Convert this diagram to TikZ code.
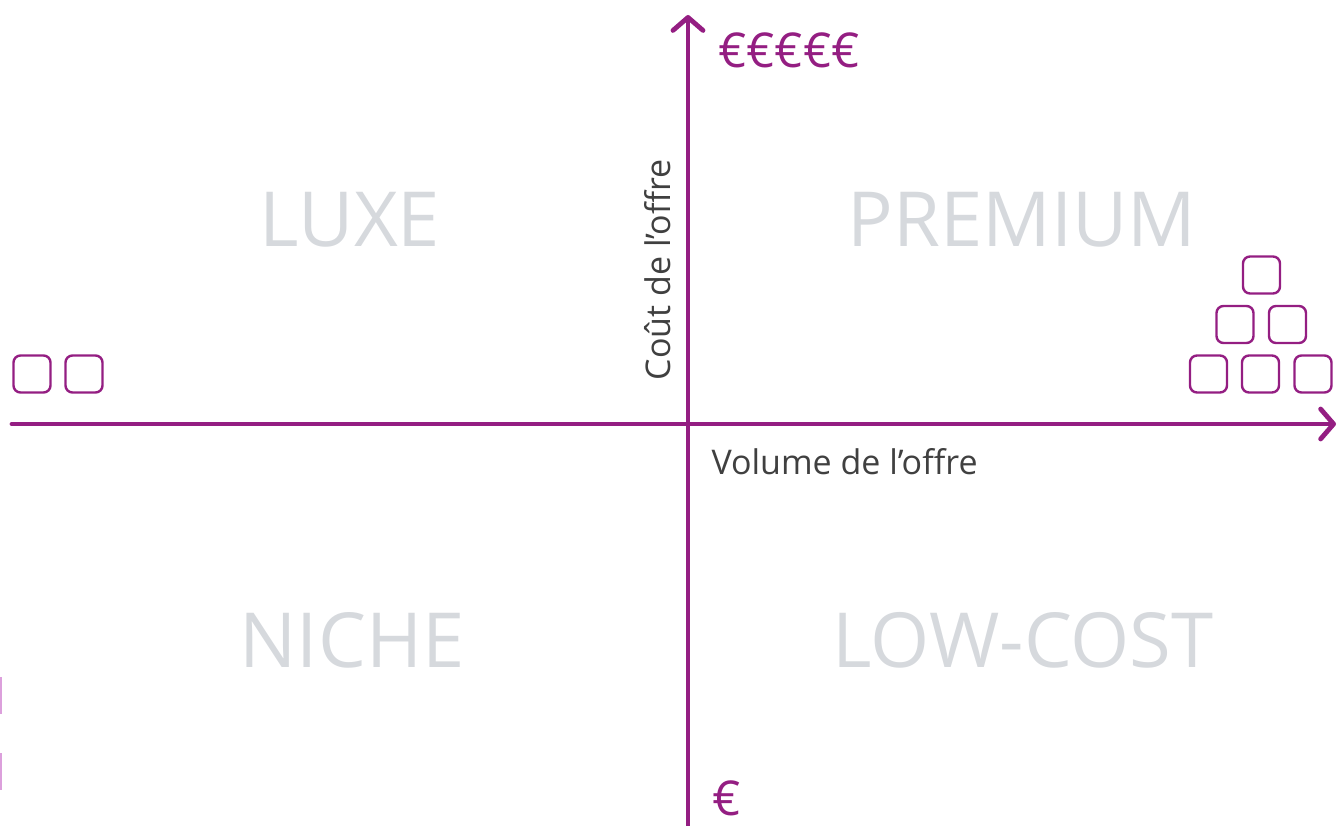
\documentclass[tikz,border=0pt]{standalone}
\usepackage{fontspec}
\setmainfont{Open Sans}
\usetikzlibrary{arrows.meta}
\definecolor{purp}{RGB}{148,30,130}
\definecolor{quad}{RGB}{214,217,221}
\definecolor{axtxt}{RGB}{64,64,64}
\definecolor{lightpurp}{RGB}{220,160,220}
\tikzset{
  axis/.style={draw=purp, line width=4.8pt, line cap=round, -{Straight Barb[length=13pt,width=30pt,line width=4.8pt,round]}},
  sq/.style={draw=purp, line width=2.4pt, rounded corners=7pt, minimum width=37pt, minimum height=37pt, inner sep=0pt},
  quadlbl/.style={text=quad, font=\fontsize{76}{86}\selectfont},
  axlbl/.style={text=axtxt, font=\fontsize{34}{40}\selectfont},
  eurolbl/.style={text=purp, font=\fontsize{48}{56}\selectfont, inner sep=0pt},
}
\begin{document}
\begin{tikzpicture}[x=1pt,y=-1pt]
\useasboundingbox (0,0) rectangle (1341,825);
\coordinate (vb) at (688,830);
\coordinate (vt) at (688,15);
\coordinate (hl) at (12,424);
\coordinate (hr) at (1336,424);
\draw[axis] (vb) -- (vt);
\draw[axis] (hl) -- (hr);
\node[eurolbl, anchor=west] (top) at (718,50) {€€€€€};
\node[eurolbl, anchor=base west, text depth=0pt] (bot) at (712,815) {€};
\node[axlbl, rotate=90] (ylab) at (658,270) {Coût de l’offre};
\node[axlbl, anchor=west] (xlab) at (708,462) {Volume de l’offre};
\node[quadlbl] (luxe) at (350,220) {LUXE};
\node[quadlbl] (prem) at (1022,220) {PREMIUM};
\node[quadlbl] (niche) at (352,640) {NICHE};
\node[quadlbl] (low) at (1023,640) {LOW-COST};
\node[sq] (l1) at (32,374) {};
\node[sq] (l2) at (84,374) {};
\node[sq] (p1) at (1261.5,275) {};
\node[sq] (p2) at (1235,324.5) {};
\node[sq] (p3) at (1287.5,324.5) {};
\node[sq] (p4) at (1208.5,374) {};
\node[sq] (p5) at (1260.5,374) {};
\node[sq] (p6) at (1313,374) {};
\fill[lightpurp] (0,677) rectangle (2,714);
\fill[lightpurp] (0,753) rectangle (2,790);
\end{tikzpicture}
\end{document}
